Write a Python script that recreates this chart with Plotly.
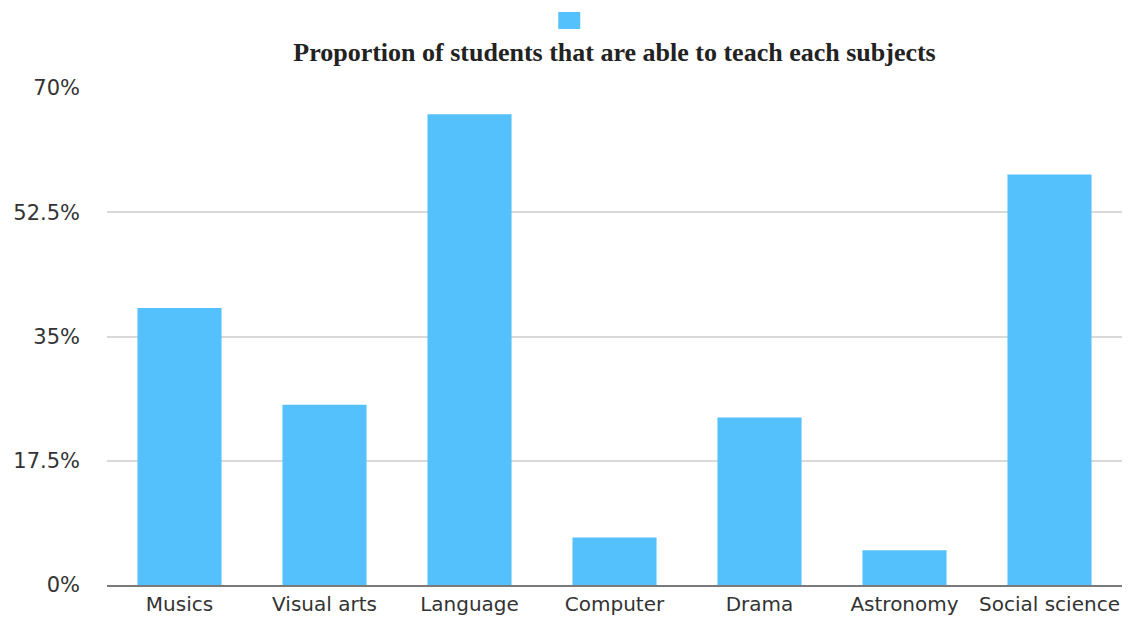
import plotly.graph_objects as go

# Survey results: share of students able to teach each subject (%)
subjects = ["Musics", "Visual arts", "Language", "Computer", "Drama", "Astronomy", "Social science"]
share_pct = [39.0, 25.4, 66.3, 6.7, 23.6, 4.9, 57.8]

y_tick_vals = [0, 17.5, 35, 52.5, 70]
y_tick_text = ["0%", "17.5%", "35%", "52.5%", "70%"]

chart_title = "Proportion of students that are able to teach each subjects"

BAR_COLOR = "#55C1FC"
W, H = 1130, 618

fig = go.Figure()
fig.add_trace(go.Bar(
    x=subjects,
    y=share_pct,
    marker=dict(color=BAR_COLOR, line=dict(width=0)),
    name=" ",
    showlegend=False,
    hovertemplate="%{x}: %{y}%<extra></extra>",
))

# legend swatch above the title
fig.add_shape(
    type="rect", xref="paper", yref="paper",
    x0=(558 - 106.5) / (1122 - 106.5), x1=(580 - 106.5) / (1122 - 106.5),
    y0=1 + (88 - 29) / (585 - 88), y1=1 + (88 - 12) / (585 - 88),
    fillcolor=BAR_COLOR, line=dict(width=0), layer="above",
)

fig.update_layout(
    width=W, height=H,
    margin=dict(l=106.5, r=8, t=88, b=33, autoexpand=False),
    paper_bgcolor="white", plot_bgcolor="white",
    bargap=0.42,
    title=dict(
        text=chart_title,
        x=0.5, xref="paper",
        y=1 - 52 / H, yref="container", yanchor="middle",
        font=dict(family="Liberation Serif", size=26, color="#222222", weight="bold"),
    ),
    xaxis=dict(
        showgrid=False, automargin=False,
        showline=True, linecolor="#7a7a7a", linewidth=2,
        ticks="", ticklabelstandoff=0,
        tickfont=dict(family="DejaVu Sans", size=20, color="#333333"),
    ),
    yaxis=dict(
        range=[0, 70], automargin=False,
        tickvals=y_tick_vals, ticktext=y_tick_text,
        showgrid=True, gridcolor="#d9d9d9", gridwidth=2,
        zeroline=False, showline=False,
        ticks="", ticklabelstandoff=26,
        tickfont=dict(family="DejaVu Sans", size=21, color="#333333"),
    ),
)

fig.write_html("out.html")
